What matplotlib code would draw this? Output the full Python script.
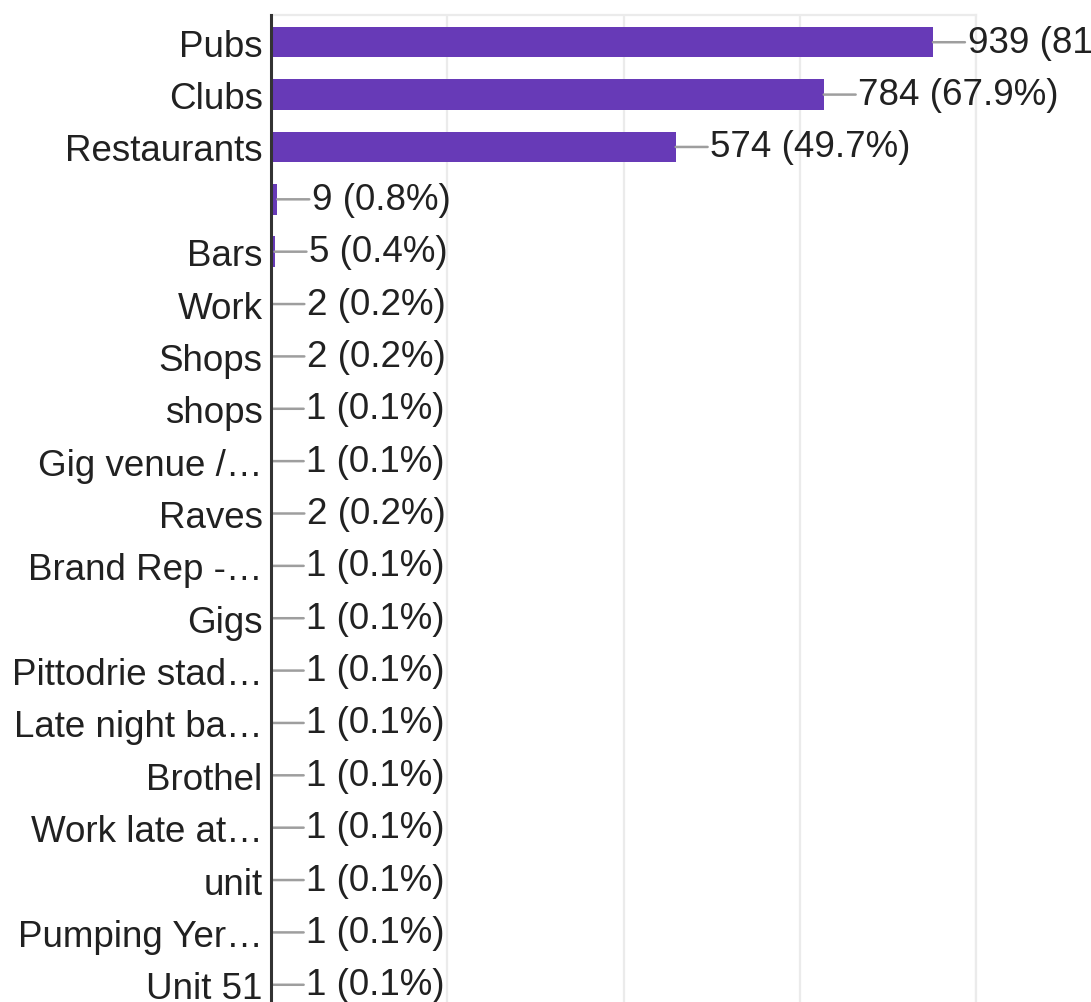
import matplotlib.pyplot as plt
import numpy as np

labels = ["Pubs", "Clubs", "Restaurants", "", "Bars", "Work", "Shops", "shops",
          "Gig venue /…", "Raves", "Brand Rep -…", "Gigs", "Pittodrie stad…",
          "Late night ba…", "Brothel", "Work late at…", "unit", "Pumping Yer…",
          "Unit 51"]
counts = [939, 784, 574, 9, 5, 2, 2, 1, 1, 2, 1, 1, 1, 1, 1, 1, 1, 1, 1]
percents = [81.3, 67.9, 49.7, 0.8, 0.4, 0.2, 0.2, 0.1, 0.1, 0.2, 0.1, 0.1,
            0.1, 0.1, 0.1, 0.1, 0.1, 0.1, 0.1]
xticks = [0, 250, 500, 750, 1000]

plt.rcParams['font.family'] = ['Liberation Sans', 'DejaVu Sans']

fig = plt.figure(figsize=(10.91, 10.03), dpi=100)
ax = fig.add_axes([271 / 1091, -10 / 1003, 705 / 1091, 997 / 1003])

y = np.arange(len(labels))
ax.barh(y, counts, height=0.58, color='#673ab7', zorder=3)

for yi, c, p in zip(y, counts, percents):
    ax.annotate(f"{c} ({p}%)", xy=(c, yi), xytext=(25, 0),
                textcoords='offset points', ha='left', va='center',
                fontsize=26.5, color='#212121', zorder=4,
                arrowprops=dict(arrowstyle='-', color='#9e9e9e', lw=1.8,
                                shrinkA=0, shrinkB=0))

ax.set_xlim(0, 1000)
ax.set_ylim(len(labels) - 0.5 + 0.02, -0.52)
ax.set_yticks(y)
ax.set_yticklabels(labels, fontsize=26.5, color='#212121')
ax.set_xticks(xticks)
ax.tick_params(axis='y', length=0, pad=6)
ax.tick_params(axis='x', length=0, labelbottom=False)
ax.grid(axis='x', color='#ebebeb', lw=1.6, zorder=0)

ax.spines['left'].set_color('#333333')
ax.spines['left'].set_linewidth(2.2)
ax.spines['left'].set_zorder(5)
for s in ['top', 'right']:
    ax.spines[s].set_color('#ebebeb')
    ax.spines[s].set_linewidth(1.6)
ax.spines['bottom'].set_visible(False)

fig.savefig('out.png', dpi=100)
